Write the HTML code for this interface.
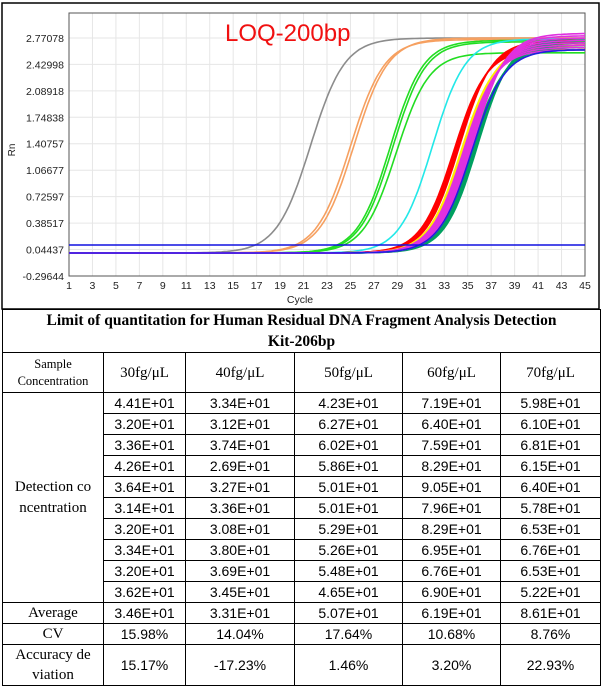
<!DOCTYPE html>
<html><head><meta charset="utf-8"><style>
body{margin:0;background:#fff;width:602px;height:690px;overflow:hidden;position:relative;font-family:"Liberation Sans",sans-serif}
#chart{position:absolute;left:0;top:0}
table{position:absolute;left:2px;top:309px;border-collapse:collapse;width:598px;table-layout:fixed}
td{border:1px solid #000;text-align:center;padding:0;font-size:14px;color:#000;height:20px;line-height:16px}
.s{font-family:"Liberation Serif",serif;font-size:15px}
.t{font-family:"Liberation Serif",serif;font-weight:bold;font-size:15.5px;line-height:21px;height:42px}
</style></head><body>
<svg id="chart" width="602" height="310" xmlns="http://www.w3.org/2000/svg">
<rect x="2" y="3" width="597" height="306" fill="#fff" stroke="#000" stroke-width="1.5"/>
<g id="grid" stroke="#e6e6e6" stroke-width="1"></g>
<rect x="69" y="13" width="516" height="263" fill="none" stroke="#555" stroke-width="1"/>
<g id="curves" fill="none" stroke-width="1.6"></g>
<line x1="69" y1="245" x2="585" y2="245" stroke="#1010e0" stroke-width="1.5"/>
<g id="labels" font-size="10.5" fill="#222" font-family="Liberation Sans,sans-serif"></g>
<text x="225" y="41" font-size="24" fill="#f01010" font-family="Liberation Sans,sans-serif">LOQ-200bp</text>
<text x="300" y="303" font-size="10.5" text-anchor="middle" fill="#222">Cycle</text>
<text x="15" y="150" font-size="10" fill="#222" transform="rotate(-90 15 150)" text-anchor="middle">Rn</text>
</svg>
<table>
<colgroup><col style="width:101px"><col style="width:82px"><col style="width:109px"><col style="width:108px"><col style="width:98px"><col style="width:100px"></colgroup>
<tr><td colspan="6" class="t">Limit of quantitation for Human Residual DNA Fragment Analysis Detection<br>Kit-206bp</td></tr>
<tr style="height:40px"><td class="s" style="font-size:12.5px;line-height:17px">Sample<br>Concentration</td><td class="s">30fg/μL</td><td class="s">40fg/μL</td><td class="s">50fg/μL</td><td class="s">60fg/μL</td><td class="s">70fg/μL</td></tr>
<tr><td rowspan="10" class="s" style="line-height:21px">Detection co<br>ncentration</td><td>4.41E+01</td><td>3.34E+01</td><td>4.23E+01</td><td>7.19E+01</td><td>5.98E+01</td></tr>
<tr><td>3.20E+01</td><td>3.12E+01</td><td>6.27E+01</td><td>6.40E+01</td><td>6.10E+01</td></tr>
<tr><td>3.36E+01</td><td>3.74E+01</td><td>6.02E+01</td><td>7.59E+01</td><td>6.81E+01</td></tr>
<tr><td>4.26E+01</td><td>2.69E+01</td><td>5.86E+01</td><td>8.29E+01</td><td>6.15E+01</td></tr>
<tr><td>3.64E+01</td><td>3.27E+01</td><td>5.01E+01</td><td>9.05E+01</td><td>6.40E+01</td></tr>
<tr><td>3.14E+01</td><td>3.36E+01</td><td>5.01E+01</td><td>7.96E+01</td><td>5.78E+01</td></tr>
<tr><td>3.20E+01</td><td>3.08E+01</td><td>5.29E+01</td><td>8.29E+01</td><td>6.53E+01</td></tr>
<tr><td>3.34E+01</td><td>3.80E+01</td><td>5.26E+01</td><td>6.95E+01</td><td>6.76E+01</td></tr>
<tr><td>3.20E+01</td><td>3.69E+01</td><td>5.48E+01</td><td>6.76E+01</td><td>6.53E+01</td></tr>
<tr><td>3.62E+01</td><td>3.45E+01</td><td>4.65E+01</td><td>6.90E+01</td><td>5.22E+01</td></tr>
<tr><td class="s">Average</td><td>3.46E+01</td><td>3.31E+01</td><td>5.07E+01</td><td>6.19E+01</td><td>8.61E+01</td></tr>
<tr><td class="s">CV</td><td>15.98%</td><td>14.04%</td><td>17.64%</td><td>10.68%</td><td>8.76%</td></tr>
<tr style="height:41px"><td class="s" style="line-height:20px">Accuracy de<br>viation</td><td>15.17%</td><td>-17.23%</td><td>1.46%</td><td>3.20%</td><td>22.93%</td></tr>
</table>
<script>
var ns="http://www.w3.org/2000/svg";
function X(c){return 69+(c-1)*11.727;}
function Y(v){return 276-(v+0.29644)/0.3408*26.45;}
var g=document.getElementById('grid'),lb=document.getElementById('labels'),cv=document.getElementById('curves');
function el(p,t,a){var e=document.createElementNS(ns,t);for(var k in a)e.setAttribute(k,a[k]);p.appendChild(e);return e;}
for(var c=1;c<=45;c+=2){var x=X(c);el(g,'line',{x1:x,y1:13,x2:x,y2:276});var t=el(lb,'text',{x:x,y:289,'text-anchor':'middle'});t.textContent=c;}
var yl=[2.77078,2.42998,2.08918,1.74838,1.40757,1.06677,0.72597,0.38517,0.04437,-0.29644];
yl.forEach(function(v){var y=Y(v);el(g,'line',{x1:69,y1:y,x2:585,y2:y});var t=el(lb,'text',{x:64,y:y+4,'text-anchor':'end'});t.textContent=v.toFixed(5);});
var cs=[['#8c8c8c',21.6,2.77,1.45],['#f6a060',25.0,2.75,1.45],['#f6a060',25.3,2.77,1.45],['#22dd22',28.6,2.72,1.4],['#22dd22',28.9,2.58,1.4],['#22dd22',28.4,2.74,1.4],['#22e8e8',32.0,2.76,1.4]];
var fam=[['#ff0000',34.1,5],['#ffee00',34.6,3],['#00a060',35.6,6],['#e030e0',35.1,8],['#2020e0',35.4,1]];
fam.forEach(function(f){for(var i=0;i<f[2];i++)cs.push([f[0],f[1]+(i-f[2]/2)*0.12,2.62+0.03*i,1.4]);});
cs.forEach(function(s){var d='';for(var c=1;c<=45;c+=0.25){var v=(s[2])/(1+Math.exp(-(c-s[1])/s[3]));d+=(c==1?'M':'L')+X(c).toFixed(1)+','+Y(v).toFixed(1);}el(cv,'path',{d:d,stroke:s[0]});});
</script>
</body></html>
